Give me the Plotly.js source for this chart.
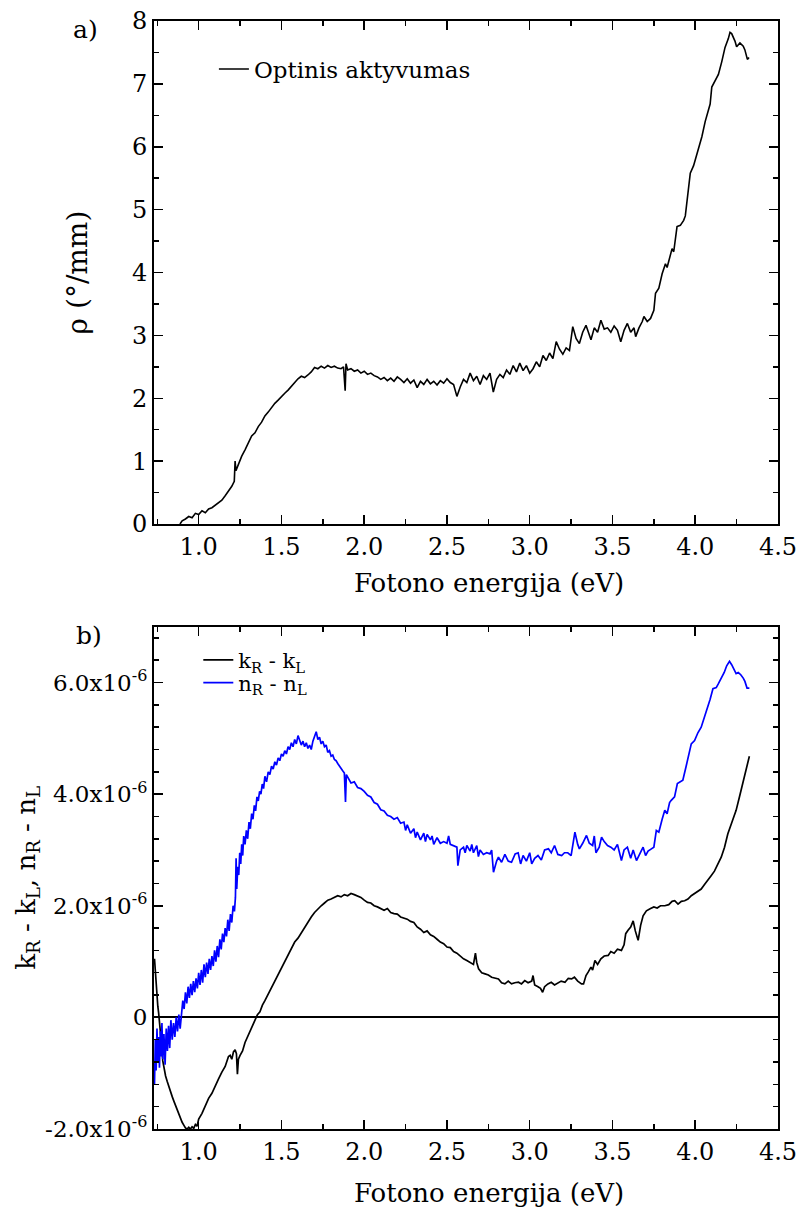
<!DOCTYPE html>
<html>
<head>
<meta charset="utf-8">
<script src="https://cdn.plot.ly/plotly-3.0.1.min.js"></script>
<style>html,body{margin:0;padding:0;background:#fff;}#chart{width:804px;height:1218px;}</style>
</head>
<body>
<div id="chart"></div>
<script>
// ---- Panel a) optical activity rho (deg/mm) vs photon energy (eV)
const rhoE = [0.887,0.90,0.92,0.94,0.96,0.98,1.00,1.02,1.04,1.06,1.08,1.10,1.12,1.14,1.16,1.18,1.20,1.215,1.22,1.225,1.24,1.26,1.28,1.30,1.32,1.34,1.36,1.38,1.40,1.42,1.44,1.46,1.48,1.50,1.52,1.54,1.56,1.58,1.60,1.62,1.64,1.66,1.68,1.70,1.72,1.74,1.76,1.78,1.80,1.82,1.84,1.86,1.875,1.885,1.89,1.90,1.92,1.94,1.96,1.98,2.00,2.02,2.04,2.06,2.08,2.10,2.12,2.14,2.16,2.18,2.20,2.22,2.24,2.26,2.28,2.30,2.32,2.34,2.36,2.38,2.40,2.42,2.44,2.46,2.48,2.50,2.52,2.54,2.56,2.58,2.60,2.62,2.64,2.66,2.68,2.70,2.72,2.74,2.76,2.78,2.80,2.82,2.84,2.86,2.88,2.90,2.92,2.94,2.96,2.98,3.00,3.02,3.04,3.06,3.08,3.10,3.12,3.14,3.16,3.18,3.20,3.22,3.24,3.26,3.28,3.30,3.32,3.34,3.36,3.37,3.39,3.41,3.43,3.45,3.47,3.49,3.51,3.53,3.55,3.57,3.59,3.61,3.63,3.64,3.66,3.68,3.69,3.71,3.73,3.75,3.76,3.78,3.80,3.82,3.83,3.85,3.86,3.87,3.89,3.91,3.93,3.94,3.96,3.97,3.99,4.00,4.02,4.04,4.06,4.08,4.09,4.10,4.12,4.14,4.16,4.18,4.20,4.21,4.22,4.24,4.25,4.27,4.29,4.30,4.315,4.325];
const rhoV = [0.00,0.05,0.08,0.12,0.10,0.17,0.15,0.21,0.18,0.24,0.26,0.30,0.33,0.38,0.45,0.52,0.60,0.68,1.00,0.85,0.95,1.08,1.18,1.28,1.40,1.45,1.55,1.62,1.72,1.78,1.85,1.92,1.97,2.03,2.08,2.13,2.19,2.26,2.31,2.35,2.33,2.37,2.42,2.49,2.47,2.51,2.48,2.52,2.49,2.51,2.48,2.47,2.50,2.12,2.55,2.45,2.47,2.43,2.45,2.40,2.43,2.38,2.40,2.36,2.34,2.30,2.33,2.28,2.32,2.27,2.34,2.30,2.25,2.31,2.24,2.29,2.17,2.27,2.22,2.30,2.23,2.27,2.21,2.28,2.24,2.31,2.25,2.22,2.03,2.18,2.30,2.25,2.40,2.28,2.35,2.22,2.36,2.30,2.40,2.10,2.30,2.38,2.33,2.45,2.38,2.52,2.42,2.56,2.44,2.52,2.40,2.47,2.58,2.50,2.68,2.60,2.72,2.63,2.90,2.78,2.70,2.80,2.76,3.14,2.95,2.87,3.05,3.16,3.00,2.93,3.12,3.05,3.24,3.10,3.12,3.05,3.15,3.08,2.90,3.08,3.19,3.05,3.12,2.98,3.12,3.22,3.30,3.22,3.27,3.40,3.67,3.75,3.98,4.14,4.08,4.30,4.38,4.33,4.73,4.75,4.83,4.90,5.30,5.58,5.70,5.79,5.98,6.16,6.40,6.60,6.68,6.95,7.06,7.15,7.35,7.58,7.72,7.82,7.80,7.68,7.59,7.65,7.60,7.54,7.39,7.42];

// ---- Panel b) values in units of 1e-6
const nE = [0.733,0.738,0.743,0.748,0.753,0.758,0.763,0.768,0.773,0.778,0.783,0.790,0.797,0.804,0.811,0.818,0.825,0.832,0.840,0.848,0.856,0.864,0.872,0.880,0.888,0.896,0.904,0.912,0.920,0.928,0.936,0.944,0.952,0.960,0.968,0.976,0.984,0.992,1.000,1.008,1.016,1.024,1.032,1.040,1.048,1.056,1.064,1.072,1.080,1.088,1.096,1.104,1.112,1.120,1.128,1.136,1.144,1.152,1.160,1.168,1.176,1.184,1.192,1.200,1.208,1.216,1.222,1.226,1.230,1.236,1.242,1.248,1.254,1.260,1.266,1.272,1.280,1.288,1.296,1.304,1.312,1.320,1.328,1.336,1.344,1.352,1.360,1.368,1.376,1.384,1.392,1.400,1.410,1.420,1.430,1.440,1.450,1.460,1.470,1.480,1.490,1.500,1.510,1.520,1.530,1.540,1.550,1.560,1.570,1.580,1.590,1.600,1.610,1.620,1.630,1.640,1.650,1.660,1.670,1.680,1.690,1.700,1.710,1.720,1.730,1.740,1.750,1.760,1.770,1.780,1.790,1.800,1.810,1.820,1.830,1.840,1.850,1.860,1.870,1.880,1.887,1.892,1.900,1.920,1.940,1.960,1.980,2.000,2.020,2.040,2.060,2.080,2.100,2.120,2.140,2.160,2.180,2.200,2.220,2.240,2.250,2.260,2.280,2.300,2.310,2.320,2.340,2.360,2.370,2.380,2.400,2.410,2.420,2.440,2.460,2.480,2.500,2.510,2.520,2.540,2.560,2.566,2.580,2.600,2.610,2.620,2.640,2.650,2.660,2.680,2.690,2.700,2.720,2.740,2.760,2.770,2.781,2.800,2.811,2.830,2.850,2.870,2.890,2.912,2.930,2.945,2.960,2.980,3.000,3.012,3.030,3.050,3.070,3.090,3.113,3.130,3.150,3.170,3.193,3.210,3.230,3.250,3.273,3.290,3.300,3.320,3.343,3.360,3.380,3.390,3.400,3.420,3.434,3.450,3.470,3.490,3.510,3.530,3.554,3.570,3.590,3.610,3.625,3.645,3.665,3.685,3.700,3.715,3.735,3.750,3.765,3.780,3.800,3.816,3.830,3.845,3.855,3.875,3.892,3.910,3.925,3.945,3.960,3.976,3.996,4.016,4.036,4.056,4.076,4.090,4.107,4.127,4.140,4.157,4.175,4.190,4.207,4.220,4.235,4.247,4.260,4.275,4.290,4.300,4.313,4.327];
const nV = [-1.20,-0.40,-0.95,-0.20,-0.80,-0.35,-0.90,-0.25,-0.70,-0.10,-0.75,-0.30,-0.85,-0.20,-0.60,-0.15,-0.55,-0.05,-0.40,-0.10,-0.35,0.00,-0.25,0.05,-0.20,0.10,0.30,0.15,0.45,0.25,0.55,0.35,0.60,0.40,0.65,0.45,0.70,0.52,0.80,0.58,0.85,0.62,0.95,0.72,0.98,0.78,1.05,0.85,1.10,0.92,1.20,1.00,1.28,1.08,1.40,1.22,1.50,1.35,1.60,1.45,1.75,1.55,1.85,1.70,2.00,1.90,2.15,2.85,2.30,2.70,2.55,2.95,2.75,3.10,2.90,3.25,3.10,3.35,3.20,3.50,3.38,3.65,3.55,3.80,3.70,3.95,3.88,4.05,4.00,4.18,4.10,4.32,4.22,4.40,4.35,4.50,4.45,4.58,4.52,4.65,4.60,4.72,4.68,4.78,4.72,4.85,4.80,4.92,4.85,4.98,4.90,5.05,4.95,4.88,4.95,4.85,4.92,4.82,4.88,4.80,4.95,5.05,5.12,4.98,5.02,4.90,4.95,4.85,4.88,4.75,4.78,4.68,4.70,4.62,4.60,4.55,4.50,4.45,4.42,4.38,3.86,4.35,4.30,4.20,4.22,4.12,4.10,4.05,3.98,3.95,3.85,3.82,3.72,3.70,3.62,3.60,3.55,3.58,3.48,3.50,3.35,3.45,3.30,3.38,3.22,3.32,3.18,3.30,3.15,3.28,3.18,3.25,3.10,3.22,3.12,3.15,3.12,3.25,3.10,3.08,3.05,2.72,3.00,3.05,2.95,3.08,2.98,3.10,2.95,3.08,2.88,3.00,2.92,2.95,2.93,3.00,2.60,2.80,2.87,2.78,2.92,2.80,2.78,2.93,2.95,2.75,2.90,2.80,2.95,2.75,2.85,2.90,2.82,3.00,3.02,2.95,3.08,2.92,2.90,2.95,2.95,2.90,3.32,3.10,3.02,3.12,3.26,3.12,3.08,3.25,2.95,3.05,3.23,3.15,3.08,3.05,3.00,3.10,2.81,3.00,3.05,2.85,3.00,2.81,2.92,3.05,2.90,2.98,3.02,3.05,3.35,3.32,3.55,3.71,3.65,3.85,3.89,3.95,4.19,4.22,4.25,4.50,4.70,4.90,4.96,5.10,5.20,5.38,5.56,5.70,5.89,5.91,5.98,6.07,6.18,6.30,6.38,6.32,6.22,6.16,6.18,6.14,6.08,6.02,5.90,5.90];

const kE = [0.733,0.738,0.743,0.748,0.753,0.758,0.763,0.770,0.776,0.783,0.790,0.800,0.810,0.820,0.830,0.840,0.850,0.860,0.870,0.880,0.890,0.900,0.910,0.920,0.930,0.940,0.950,0.960,0.970,0.980,0.990,1.000,1.020,1.040,1.060,1.080,1.100,1.120,1.140,1.160,1.180,1.190,1.200,1.210,1.220,1.228,1.234,1.240,1.250,1.265,1.280,1.295,1.310,1.325,1.340,1.355,1.370,1.385,1.400,1.420,1.440,1.460,1.480,1.500,1.520,1.540,1.560,1.580,1.600,1.620,1.640,1.660,1.680,1.700,1.720,1.740,1.760,1.780,1.800,1.820,1.840,1.860,1.880,1.900,1.920,1.940,1.960,1.980,2.000,2.020,2.040,2.060,2.080,2.100,2.120,2.140,2.160,2.180,2.200,2.220,2.240,2.260,2.280,2.300,2.320,2.340,2.360,2.380,2.400,2.420,2.440,2.460,2.480,2.500,2.520,2.540,2.560,2.580,2.600,2.620,2.640,2.660,2.672,2.680,2.691,2.710,2.730,2.750,2.770,2.790,2.811,2.830,2.850,2.870,2.890,2.910,2.932,2.950,2.970,2.990,3.012,3.020,3.030,3.050,3.065,3.078,3.090,3.110,3.130,3.150,3.170,3.190,3.213,3.233,3.253,3.270,3.290,3.313,3.325,3.340,3.353,3.370,3.380,3.394,3.410,3.430,3.450,3.474,3.490,3.510,3.530,3.554,3.570,3.580,3.594,3.610,3.625,3.638,3.655,3.670,3.685,3.705,3.730,3.750,3.770,3.790,3.816,3.840,3.860,3.876,3.896,3.916,3.936,3.956,3.976,3.996,4.016,4.036,4.056,4.076,4.096,4.116,4.137,4.157,4.177,4.197,4.222,4.247,4.267,4.287,4.307,4.327];
const kV = [1.05,0.80,0.50,0.35,0.20,0.08,-0.05,-0.25,-0.50,-0.78,-0.92,-1.05,-1.15,-1.25,-1.35,-1.42,-1.50,-1.58,-1.65,-1.73,-1.80,-1.88,-1.93,-1.98,-2.00,-1.97,-2.00,-1.96,-1.99,-1.92,-1.95,-1.82,-1.72,-1.58,-1.45,-1.36,-1.22,-1.10,-0.98,-0.88,-0.70,-0.68,-0.75,-0.62,-0.58,-0.65,-1.02,-0.75,-0.68,-0.60,-0.45,-0.35,-0.22,-0.12,-0.02,0.05,0.10,0.22,0.30,0.42,0.52,0.65,0.78,0.90,1.02,1.12,1.25,1.35,1.42,1.52,1.62,1.70,1.80,1.88,1.95,2.00,2.05,2.10,2.12,2.15,2.18,2.16,2.20,2.18,2.22,2.20,2.18,2.15,2.10,2.06,2.05,2.00,1.98,1.95,1.92,1.95,1.88,1.86,1.85,1.80,1.78,1.76,1.72,1.70,1.62,1.58,1.52,1.55,1.48,1.45,1.40,1.35,1.32,1.26,1.25,1.18,1.15,1.10,1.05,1.02,0.98,0.95,1.15,0.98,0.87,0.80,0.78,0.76,0.72,0.70,0.69,0.62,0.60,0.65,0.60,0.62,0.63,0.60,0.66,0.62,0.65,0.75,0.58,0.55,0.52,0.45,0.55,0.60,0.63,0.58,0.62,0.65,0.63,0.70,0.69,0.72,0.65,0.60,0.60,0.75,0.81,0.90,0.85,1.02,0.95,1.05,1.10,1.11,1.18,1.15,1.22,1.20,1.30,1.50,1.56,1.62,1.73,1.55,1.38,1.65,1.82,1.91,1.95,1.98,1.96,2.00,2.00,2.02,2.08,2.09,2.03,2.08,2.09,2.12,2.18,2.22,2.26,2.30,2.38,2.45,2.54,2.62,2.74,2.87,3.05,3.29,3.50,3.71,3.95,4.19,4.44,4.68];

const xTicks = [1.0,1.5,2.0,2.5,3.0,3.5,4.0,4.5];
const xTickText = ["1.0","1.5","2.0","2.5","3.0","3.5","4.0","4.5"];
const y2Ticks = [-2,0,2,4,6];
const y2TickText = ["-2.0x10<sup>-6</sup>","0","2.0x10<sup>-6</sup>","4.0x10<sup>-6</sup>","6.0x10<sup>-6</sup>"];
const xTitle = 'Fotono energija (eV)';

const FONT = 'DejaVu Serif';

const baseX = {
  range:[0.73,4.5], tickmode:'array', tickvals:xTicks, ticktext:xTickText,
  ticks:'inside', ticklen:9, tickwidth:1.5, tickcolor:'#000',
  showline:true, linecolor:'#000', linewidth:2, mirror:'ticks',
  showgrid:false, zeroline:false,
  tickfont:{family:FONT,size:24,color:'#000'},
  minor:{dtick:0.25, tick0:0, ticks:'inside', ticklen:5, tickwidth:1.5, tickcolor:'#000', showgrid:false}
};

const traces = [
  {x:rhoE, y:rhoV, type:'scatter', mode:'lines', name:'Optinis aktyvumas',
   line:{color:'#000', width:1.6}, xaxis:'x', yaxis:'y', legend:'legend'},
  {x:kE, y:kV, type:'scatter', mode:'lines', name:'k<sub>R</sub> - k<sub>L</sub>',
   line:{color:'#000', width:1.7}, xaxis:'x2', yaxis:'y2', legend:'legend2'},
  {x:nE, y:nV, type:'scatter', mode:'lines', name:'n<sub>R</sub> - n<sub>L</sub>',
   line:{color:'#0000ff', width:1.7}, xaxis:'x2', yaxis:'y2', legend:'legend3'}
];

const layout = {
  width:804, height:1218,
  margin:{l:154, r:26, t:21, b:89},
  paper_bgcolor:'#fff', plot_bgcolor:'#fff',
  font:{family:FONT, color:'#000'},
  xaxis: Object.assign({}, baseX, {anchor:'y', domain:[0,1]}),
  xaxis2: Object.assign({}, baseX, {anchor:'y2', domain:[0,1]}),
  yaxis: {
    anchor:'x', domain:[0.546,1], range:[0,8], dtick:1, tick0:0,
    ticks:'inside', ticklen:9, tickwidth:1.5, tickcolor:'#000',
    showline:true, linecolor:'#000', linewidth:2, mirror:'ticks',
    showgrid:false, zeroline:false,
    tickfont:{family:FONT,size:24,color:'#000'},
    minor:{dtick:0.5, tick0:0, ticks:'inside', ticklen:5, tickwidth:1.5, tickcolor:'#000', showgrid:false},
    title:{text:'ρ (°/mm)', font:{family:FONT,size:28,color:'#000'}, standoff:36}
  },
  yaxis2: {
    anchor:'x2', domain:[0,0.4533], range:[-2,7], tickmode:'array', tickvals:y2Ticks, ticktext:y2TickText,
    ticks:'inside', ticklen:9, tickwidth:1.5, tickcolor:'#000',
    showline:true, linecolor:'#000', linewidth:2, mirror:'ticks',
    showgrid:false, zeroline:true, zerolinecolor:'#000', zerolinewidth:2,
    tickfont:{family:FONT,size:23,color:'#000'},
    minor:{dtick:0.4, tick0:0, ticks:'inside', ticklen:5, tickwidth:1.5, tickcolor:'#000', showgrid:false},
    title:{text:'k<sub>R</sub> - k<sub>L</sub>, n<sub>R</sub> - n<sub>L</sub>', font:{family:FONT,size:26,color:'#000'}, standoff:2}
  },
  legend:{x:0.096, y:0.976, xanchor:'left', yanchor:'top', bgcolor:'rgba(0,0,0,0)',
          font:{family:FONT,size:23,color:'#000'}, borderwidth:0},
  legend2:{x:0.071, y:0.4415, xanchor:'left', yanchor:'top', bgcolor:'rgba(0,0,0,0)',
          font:{family:FONT,size:21,color:'#000'}, borderwidth:0},
  legend3:{x:0.071, y:0.421, xanchor:'left', yanchor:'top', bgcolor:'rgba(0,0,0,0)',
          font:{family:FONT,size:21,color:'#000'}, borderwidth:0},
  showlegend:true,
  annotations:[
    {text:xTitle, xref:'paper', yref:'paper', x:0.537, y:0.4928, xanchor:'center', yanchor:'middle',
     showarrow:false, font:{family:FONT,size:26,color:'#000'}},
    {text:xTitle, xref:'paper', yref:'paper', x:0.537, y:-0.0578, xanchor:'center', yanchor:'middle',
     showarrow:false, font:{family:FONT,size:26,color:'#000'}},
    {text:'a)', xref:'paper', yref:'paper', x:-0.11, y:0.992, xanchor:'center', yanchor:'middle',
     showarrow:false, font:{family:FONT,size:25,color:'#000'}},
    {text:'b)', xref:'paper', yref:'paper', x:-0.104, y:0.445, xanchor:'center', yanchor:'middle',
     showarrow:false, font:{family:FONT,size:25,color:'#000'}}
  ]
};

Plotly.newPlot('chart', traces, layout, {staticPlot:true, displayModeBar:false});
</script>
</body>
</html>
